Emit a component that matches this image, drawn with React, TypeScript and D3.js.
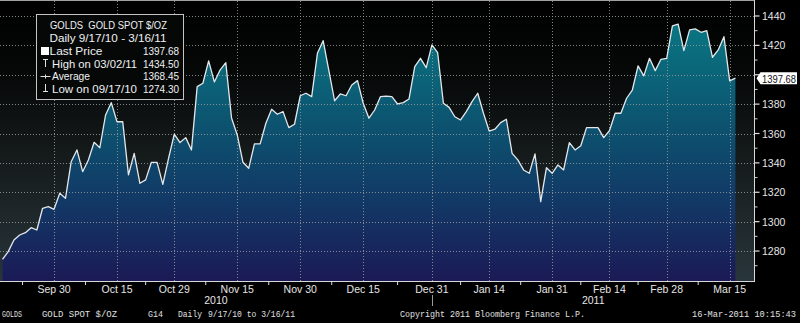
import React from "react";
import * as d3 from "d3";

const startDate = "2010-09-17";
const endDate = "2011-03-16";

const prices = [
  1274.3, 1279.6, 1287.5, 1290.9, 1292.5, 1295.9, 1294.3, 1309.1, 1310.2, 1308.4,
  1319.3, 1315.9, 1340.8, 1348.8, 1334.0, 1342.0, 1354.0, 1350.3, 1372.6, 1381.0,
  1368.0, 1368.0, 1331.8, 1346.5, 1326.1, 1328.4, 1340.4, 1340.4, 1325.4, 1343.1,
  1359.5, 1353.8, 1357.2, 1348.8, 1391.9, 1394.2, 1409.4, 1395.1, 1403.2, 1408.2,
  1370.6, 1359.0, 1340.4, 1336.3, 1352.9, 1352.9, 1367.0, 1376.5, 1373.1, 1374.9,
  1364.0, 1366.3, 1385.7, 1387.4, 1385.1, 1414.6, 1423.2, 1402.8, 1382.3, 1386.9,
  1385.7, 1393.0, 1396.0, 1380.6, 1370.4, 1376.0, 1385.1, 1385.5, 1385.1, 1380.1,
  1381.0, 1383.5, 1405.5, 1411.2, 1404.8, 1420.3, 1415.0, 1380.6, 1377.8, 1371.4,
  1369.2, 1374.9, 1381.7, 1387.4, 1373.8, 1361.7, 1362.9, 1367.4, 1369.7, 1346.5,
  1342.0, 1335.2, 1332.9, 1346.1, 1313.6, 1336.7, 1332.9, 1338.6, 1335.2, 1353.8,
  1348.8, 1351.7, 1364.0, 1364.0, 1364.0, 1357.2, 1361.9, 1373.8, 1373.8, 1384.0,
  1389.6, 1406.0, 1399.2, 1411.2, 1402.8, 1410.5, 1411.2, 1433.2, 1434.5, 1416.4,
  1430.5, 1431.2, 1428.9, 1430.0, 1411.9, 1416.9, 1425.9, 1395.8, 1397.68,
];

const tickDates = [
  "2010-09-30", "2010-10-15", "2010-10-29", "2010-11-15", "2010-11-30", "2010-12-15",
  "2010-12-31", "2011-01-14", "2011-01-31", "2011-02-14", "2011-02-28", "2011-03-15",
];
const tickLabels = [
  "Sep 30", "Oct 15", "Oct 29", "Nov 15", "Nov 30", "Dec 15",
  "Dec 31", "Jan 14", "Jan 31", "Feb 14", "Feb 28", "Mar 15",
];
const yearLabels = ["2010", "2011"];
const yearBreakDate = "2010-12-31";

const yTicks = [1280, 1300, 1320, 1340, 1360, 1380, 1400, 1420, 1440];
const yMinorTicks = [1270, 1290, 1310, 1330, 1350, 1370, 1390, 1410, 1430];

const legendTitle = "GOLDS  GOLD SPOT $/OZ";
const legendRange = "Daily 9/17/10 - 3/16/11";
const legendLabels = ["Last Price", "High on 03/02/11", "Average", "Low on 09/17/10"];
const legendValues = ["1397.68", "1434.50", "1368.45", "1274.30"];
const lastPriceLabel = "1397.68";

const footerLeft = ["GOLDS", "GOLD SPOT $/OZ", "G14", "Daily", "9/17/10 to 3/16/11"];
const footerCopyright = "Copyright 2011 Bloomberg Finance L.P.";
const footerStamp = "16-Mar-2011 10:15:43";

const W = 800;
const H = 323;
const plotLeft = 0;
const plotRight = 754.5;
const plotTop = 1;
const plotBottom = 281;

const fmt = d3.utcFormat("%Y-%m-%d");
const dates = d3.utcDay
  .range(new Date(startDate + "T00:00:00Z"), d3.utcDay.offset(new Date(endDate + "T00:00:00Z"), 1))
  .filter((d) => d.getUTCDay() !== 0 && d.getUTCDay() !== 6)
  .map(fmt);

export default function App() {
  const x = d3.scalePoint<string>().domain(dates).range([2.5, 735.4]);
  const y = d3.scaleLinear().domain([1260, 1450]).range([280.4, 1.3]);

  const data = dates.map((d, i) => ({ d, v: prices[i] }));
  const area = d3
    .area<{ d: string; v: number }>()
    .x((p) => x(p.d)!)
    .y0(plotBottom)
    .y1((p) => y(p.v));
  const line = d3
    .line<{ d: string; v: number }>()
    .x((p) => x(p.d)!)
    .y((p) => y(p.v));

  const tickXs = tickDates.map((d) => x(d)!);
  const step = tickXs[1] - tickXs[0];
  const minorXs = [tickXs[0] - step / 2, ...tickXs.slice(0, -1).map((t, i) => (t + tickXs[i + 1]) / 2)];
  const breakX = x(yearBreakDate)!;
  const yearXs = [(plotLeft + breakX) / 2, (breakX + plotRight) / 2];

  const lastY = y(prices[prices.length - 1]);
  const font = "'Liberation Sans', Arial, sans-serif";
  const mono = "'Liberation Mono', 'DejaVu Sans Mono', monospace";
  const footerX = [2, 42, 148, 178, 208];
  const footerLen = [20, 75, 15, 24, 87];
  const pre = { whiteSpace: "pre" as const };

  return (
    <svg
      width={W}
      height={H}
      style={{ position: "absolute", left: 0, top: 0, display: "block" }}
      xmlns="http://www.w3.org/2000/svg"
    >
      <defs>
        <linearGradient id="bg" gradientUnits="userSpaceOnUse" x1="0" y1={plotTop} x2="0" y2={plotBottom}>
          <stop offset="0" stopColor="#000000" />
          <stop offset="0.25" stopColor="#060808" />
          <stop offset="0.55" stopColor="#151a1b" />
          <stop offset="1" stopColor="#28353a" />
        </linearGradient>
        <linearGradient id="fill" gradientUnits="userSpaceOnUse" x1="0" y1={plotTop} x2="0" y2={plotBottom}>
          <stop offset="0" stopColor="#0a7a86" />
          <stop offset="0.1" stopColor="#0a7481" />
          <stop offset="0.3" stopColor="#0b6177" />
          <stop offset="0.5" stopColor="#0d4d6d" />
          <stop offset="0.72" stopColor="#123866" />
          <stop offset="1" stopColor="#1b1a56" />
        </linearGradient>
      </defs>

      <rect x={0} y={0} width={W} height={H} fill="#000" />
      <rect x={plotLeft} y={plotTop} width={plotRight - plotLeft} height={plotBottom - plotTop} fill="url(#bg)" />

      <path d={area(data)!} fill="url(#fill)" />

      {yTicks.map((t) => (
        <line key={"hg" + t} x1={plotLeft} x2={plotRight} y1={Math.round(y(t)) + 0.5} y2={Math.round(y(t)) + 0.5}
          stroke="#9a9a9a" strokeWidth={1} strokeDasharray="1,2" opacity={0.85} />
      ))}
      {tickXs.map((tx, i) => (
        <line key={"vg" + i} x1={Math.round(tx) + 0.5} x2={Math.round(tx) + 0.5} y1={plotTop} y2={plotBottom}
          stroke="#9a9a9a" strokeWidth={1} strokeDasharray="1,2" opacity={0.85} />
      ))}

      <path d={line(data)!} fill="none" stroke="#e4e8ea" strokeWidth={1.3} strokeLinejoin="round" />

      {/* frame */}
      <line x1={0} x2={plotRight} y1={0.5} y2={0.5} stroke="#a0a0a0" strokeWidth={1} />
      <line x1={plotLeft} x2={plotRight} y1={plotBottom + 0.5} y2={plotBottom + 0.5} stroke="#d8d8d8" strokeWidth={1} />
      <line x1={plotRight} x2={plotRight} y1={0} y2={plotBottom + 1} stroke="#d8d8d8" strokeWidth={1} />

      {/* right axis */}
      {yTicks.map((t) => (
        <g key={"yt" + t}>
          <line x1={plotRight} x2={plotRight + 5} y1={y(t)} y2={y(t)} stroke="#e0e0e0" strokeWidth={1.2} />
          {Math.abs(y(t) - lastY) > 12 && (
            <text x={762} y={y(t) + 4} fill="#e6e6e6" fontFamily={font} fontSize={10.5}>{t}</text>
          )}
        </g>
      ))}
      {yMinorTicks.map((t) => (
        <line key={"ym" + t} x1={plotRight} x2={plotRight + 3} y1={y(t)} y2={y(t)} stroke="#cfcfcf" strokeWidth={1} />
      ))}

      {/* last price tag */}
      <path
        d={`M${plotRight + 2},${lastY} L${plotRight + 6},${lastY - 6} L797,${lastY - 6} L797,${lastY + 6} L${plotRight + 6},${lastY + 6} Z`}
        fill="#ffffff"
      />
      <text x={762} y={lastY + 4.5} fill="#111" fontFamily={font} fontSize={10.5} textLength={34} lengthAdjust="spacingAndGlyphs">
        {lastPriceLabel}
      </text>

      {/* bottom axis */}
      {minorXs.map((mx, i) => (
        <line key={"bm" + i} x1={mx} x2={mx} y1={plotBottom} y2={plotBottom + 4} stroke="#e0e0e0" strokeWidth={1} />
      ))}
      {tickXs.map((tx, i) => (
        <text key={"bl" + i} x={tx} y={292.5} textAnchor="middle" fill="#e6e6e6" fontFamily={font} fontSize={10.5}>
          {tickLabels[i]}
        </text>
      ))}
      <line x1={Math.round(breakX) + 0.5} x2={Math.round(breakX) + 0.5} y1={295} y2={306} stroke="#9a9a9a" strokeWidth={1} />
      {yearLabels.map((yl, i) => (
        <text key={yl} x={yearXs[i]} y={303.5} textAnchor="middle" fill="#e6e6e6" fontFamily={font} fontSize={10.5}>
          {yl}
        </text>
      ))}

      {/* footer */}
      {footerLeft.map((s, i) => (
        <text key={"f" + i} x={footerX[i]} y={317} fill="#e0e0e0" fontFamily={mono} fontSize={8.5}
          textLength={footerLen[i]} lengthAdjust="spacingAndGlyphs">{s}</text>
      ))}
      <text x={400} y={317} fill="#e0e0e0" fontFamily={mono} fontSize={8.5} textLength={185} lengthAdjust="spacingAndGlyphs">
        {footerCopyright}
      </text>
      <text x={692} y={317} fill="#e0e0e0" fontFamily={mono} fontSize={8.5} textLength={104} lengthAdjust="spacingAndGlyphs">
        {footerStamp}
      </text>

      {/* legend */}
      <rect x={36.5} y={14.5} width={147} height={85} fill="#060808" stroke="#c4c4c4" strokeWidth={1} />
      <text x={50} y={29} fill="#f0f0f0" fontFamily={font} fontSize={10.5} textLength={117} lengthAdjust="spacingAndGlyphs" style={pre}>
        {legendTitle}
      </text>
      <text x={49.5} y={42} fill="#f0f0f0" fontFamily={font} fontSize={10.5} textLength={117} lengthAdjust="spacingAndGlyphs">
        {legendRange}
      </text>
      {legendLabels.map((l, i) => {
        const by = [55, 67.5, 80, 92.5][i];
        const lx = [49.5, 52, 52, 52][i];
        const ll = [53, 85, 38, 85][i];
        return (
          <g key={"lg" + i}>
            <text x={lx} y={by} fill="#f0f0f0" fontFamily={font} fontSize={10.5} textLength={ll} lengthAdjust="spacingAndGlyphs">{l}</text>
            <text x={143} y={by} fill="#f0f0f0" fontFamily={font} fontSize={10.5} textLength={36} lengthAdjust="spacingAndGlyphs">{legendValues[i]}</text>
          </g>
        );
      })}
      {/* legend icons */}
      <rect x={41} y={47} width={8} height={8} fill="#ffffff" />
      <line x1={43} x2={48} y1={59.5} y2={59.5} stroke="#e0e0e0" strokeWidth={1} />
      <line x1={45.5} x2={45.5} y1={59.5} y2={67} stroke="#e0e0e0" strokeWidth={1} />
      <line x1={40.5} x2={50.5} y1={76.5} y2={76.5} stroke="#e0e0e0" strokeWidth={1} />
      <line x1={45.5} x2={45.5} y1={74.5} y2={78.5} stroke="#e0e0e0" strokeWidth={1} />
      <line x1={45.5} x2={45.5} y1={84} y2={91.5} stroke="#e0e0e0" strokeWidth={1} />
      <line x1={43} x2={48} y1={91.5} y2={91.5} stroke="#e0e0e0" strokeWidth={1} />
    </svg>
  );
}
